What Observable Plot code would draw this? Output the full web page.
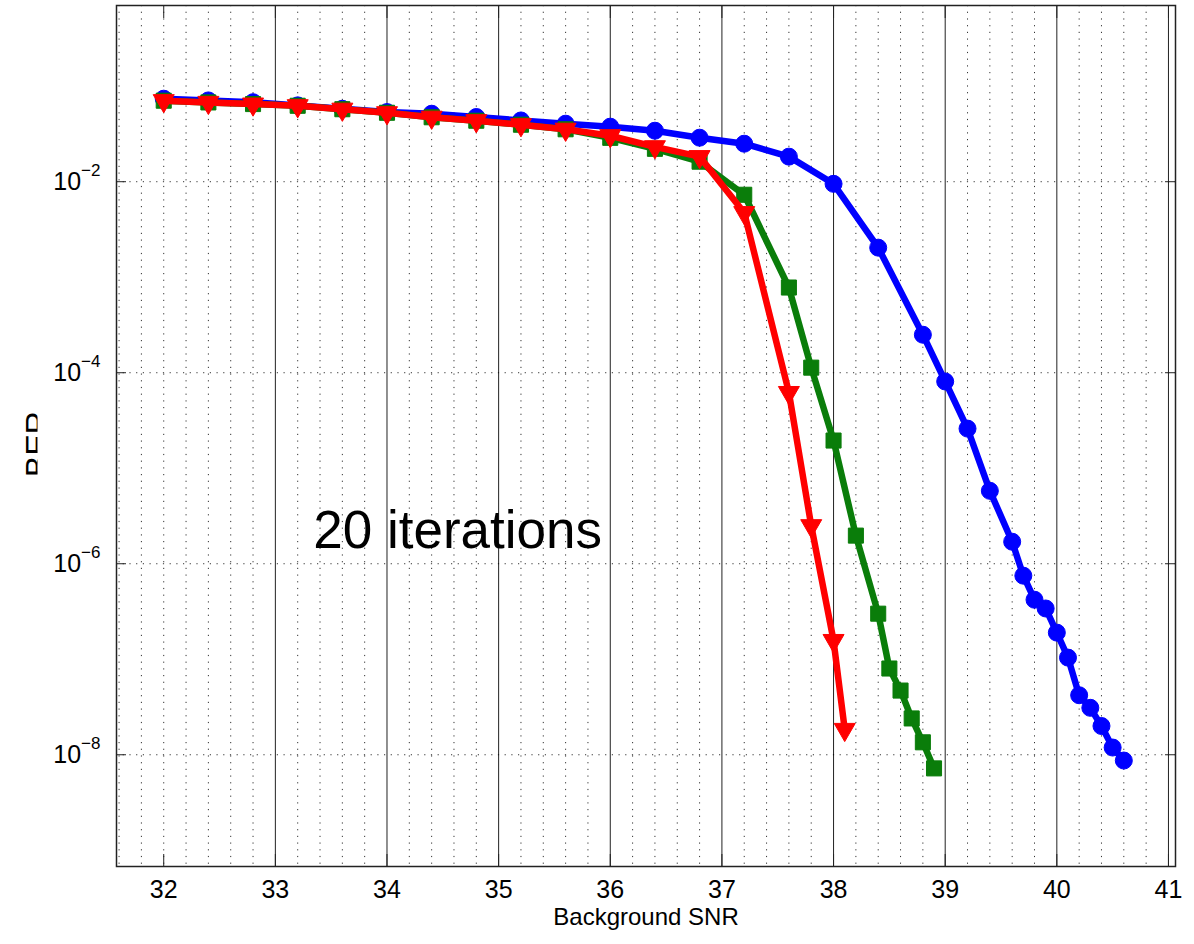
<!DOCTYPE html>
<html>
<head>
<meta charset="utf-8">
<script src="https://cdn.jsdelivr.net/npm/d3@7"></script>
<script src="https://cdn.jsdelivr.net/npm/@observablehq/plot@0.6"></script>
<style>
  html, body { margin: 0; padding: 0; background: #fff; }
  #chart svg { font-family: "Liberation Sans", Arial, sans-serif; display: block; }
</style>
</head>
<body>
<div id="chart"></div>
<script>
// ---- data ----
const xTicks = [32, 33, 34, 35, 36, 37, 38, 39, 40, 41];
const yTicks = [1e-2, 1e-4, 1e-6, 1e-8];
const majorGridX = [33, 34, 35, 36, 37, 38, 39, 40, 41];

const blueX   = [32, 32.4, 32.8, 33.2, 33.6, 34.0, 34.4, 34.8, 35.2, 35.6, 36.0, 36.4, 36.8, 37.2, 37.6, 38.0, 38.4, 38.8, 39.0, 39.2, 39.4, 39.6, 39.7, 39.8, 39.9, 40.0, 40.1, 40.2, 40.3, 40.4, 40.5, 40.6];
const blueBER = [0.074, 0.071, 0.068, 0.063, 0.058, 0.0536, 0.0515, 0.0476, 0.0438, 0.0405, 0.0377, 0.0342, 0.0289, 0.025, 0.0183, 0.0095, 0.00204, 2.5e-4, 8.1e-5, 2.6e-5, 5.8e-6, 1.7e-6, 7.5e-7, 4.2e-7, 3.4e-7, 1.9e-7, 1.04e-7, 4.2e-8, 3.1e-8, 2.0e-8, 1.19e-8, 8.7e-9];

const greenX   = [32, 32.4, 32.8, 33.2, 33.6, 34.0, 34.4, 34.8, 35.2, 35.6, 36.0, 36.4, 36.8, 37.2, 37.6, 37.8, 38.0, 38.2, 38.4, 38.5, 38.6, 38.7, 38.8, 38.9];
const greenBER = [0.0705, 0.0676, 0.065, 0.0624, 0.0574, 0.0527, 0.0473, 0.0435, 0.0395, 0.0354, 0.0288, 0.0221, 0.0162, 0.0073, 7.8e-4, 1.13e-4, 1.95e-5, 1.97e-6, 3.0e-7, 8.0e-8, 4.7e-8, 2.4e-8, 1.35e-8, 7.2e-9];

const redX   = [32, 32.4, 32.8, 33.2, 33.6, 34.0, 34.4, 34.8, 35.2, 35.6, 36.0, 36.4, 36.8, 37.2, 37.6, 37.8, 38.0, 38.1];
const redBER = [0.0705, 0.0676, 0.065, 0.0624, 0.0574, 0.0527, 0.0473, 0.0435, 0.0395, 0.0354, 0.0303, 0.0232, 0.0183, 0.00474, 6.2e-5, 2.5e-6, 1.57e-7, 1.84e-8];

const noteText = ["20 iterations"];
const noteX = [33.34];
const noteY = [2.2e-6];

// ---- tables built from the arrays ----
const blue  = blueX.map((x, i) => ({x, y: blueBER[i]}));
const green = greenX.map((x, i) => ({x, y: greenBER[i]}));
const red   = redX.map((x, i) => ({x, y: redBER[i]}));
const notes = noteText.map((t, i) => ({t, x: noteX[i], y: noteY[i]}));

// minor (dotted) grid every 0.2, except where the solid major lines are
const minorGridX = d3.range(158, 206).map(i => i / 5)
  .filter(v => !majorGridX.includes(v));

const BLUE = "#0000ff", GREEN = "#0a7d0a", RED = "#ff0000";

const plot = Plot.plot({
  width: 1194,
  height: 944,
  marginLeft: 116,
  marginRight: 19,
  marginTop: 5,
  marginBottom: 78,
  style: {fontFamily: "Liberation Sans, Arial, sans-serif", background: "#fff", color: "#000"},
  x: {domain: [31.577, 41.063]},
  y: {type: "log", domain: [Math.pow(10, -9.17), Math.pow(10, -0.155)]},
  marks: [
    // grid
    Plot.ruleX(minorGridX, {stroke: "#000", strokeOpacity: 0.8, strokeDasharray: "1.2,5.5"}),
    Plot.ruleX(majorGridX, {stroke: "#222", strokeWidth: 1}),
    Plot.ruleY(yTicks, {stroke: "#000", strokeOpacity: 0.8, strokeDasharray: "1.2,5.5"}),
    // inward tick marks on all four sides
    Plot.axisX({anchor: "bottom", ticks: xTicks, tickSize: -12, tickFormat: () => "", label: null, stroke: "#222"}),
    Plot.axisX({anchor: "top", ticks: xTicks, tickSize: -12, tickFormat: () => "", label: null, stroke: "#222"}),
    Plot.axisY({anchor: "left", ticks: yTicks, tickSize: -10, tickFormat: () => "", label: null, stroke: "#222"}),
    Plot.axisY({anchor: "right", ticks: yTicks, tickSize: -11, tickFormat: () => "", label: null, stroke: "#222"}),
    // tick labels
    Plot.axisX({anchor: "bottom", ticks: xTicks, tickSize: 0, tickPadding: 14, fontSize: 25, label: null, tickFormat: d => String(d)}),
    Plot.axisY({anchor: "left", ticks: yTicks, tickSize: 0, tickPadding: 16, fontSize: 25, label: null,
      tickFormat: d => String(Math.round(Math.log10(d)))}),
    Plot.frame({stroke: "#222", strokeWidth: 1.5}),
    // series
    Plot.line(blue, {x: "x", y: "y", stroke: BLUE, strokeWidth: 6.5, strokeLinejoin: "round"}),
    Plot.dot(blue, {x: "x", y: "y", symbol: "circle", r: 8.5, fill: BLUE, stroke: BLUE, strokeWidth: 1}),
    Plot.line(green, {x: "x", y: "y", stroke: GREEN, strokeWidth: 6.5, strokeLinejoin: "round"}),
    Plot.dot(green, {x: "x", y: "y", symbol: "square", r: 8.5, fill: GREEN, stroke: GREEN, strokeWidth: 1}),
    Plot.line(red, {x: "x", y: "y", stroke: RED, strokeWidth: 6.5, strokeLinejoin: "round"}),
    Plot.dot(red, {x: "x", y: "y", symbol: "triangle", rotate: 180, r: 7.8, fill: RED, stroke: RED, strokeWidth: 1}),
    // annotation
    Plot.text(notes, {x: "x", y: "y", text: "t", textAnchor: "start", fontSize: 53, fill: "#000"}),
    // axis titles
    Plot.text(["Background SNR"], {frameAnchor: "bottom", lineAnchor: "middle", textAnchor: "middle", dy: 51, fontSize: 24, fill: "#000"}),
    Plot.text(["BER"], {frameAnchor: "left", lineAnchor: "middle", textAnchor: "middle", dx: -79, dy: 8, rotate: -90, fontSize: 32, fill: "#000"})
  ]
});

// render y tick labels as 10 with a raised exponent
d3.select(plot).selectAll('g[aria-label="y-axis tick label"] text').each(function () {
  const t = d3.select(this);
  const e = t.text();
  if (!e) return;
  t.text("");
  t.append("tspan").text("10");
  t.append("tspan").attr("font-size", 17).attr("dy", -14).text(e.replace("-", "\u2212"));
});

// the reference shows only the left part of the rotated "BER" title: clip it the same way
(function () {
  const svg = d3.select(plot);
  const defs = svg.insert("defs", ":first-child");
  defs.append("clipPath").attr("id", "ber-clip")
    .append("rect").attr("x", 0).attr("y", 0).attr("width", 37.5).attr("height", 944);
  const berText = svg.selectAll("text").filter(function () { return this.textContent === "BER"; });
  const node = berText.node();
  if (node) {
    const markGroup = node.parentNode;
    const wrap = svg.append("g").attr("clip-path", "url(#ber-clip)");
    wrap.node().appendChild(markGroup);
  }
})();

document.getElementById("chart").appendChild(plot);
</script>
</body>
</html>
